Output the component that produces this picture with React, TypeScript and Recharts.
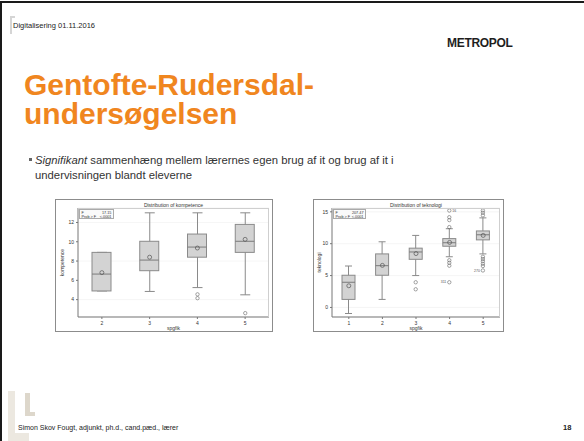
import React from "react";
import { ComposedChart, Bar, Scatter, XAxis, YAxis, CartesianGrid, Label } from "recharts";

// Distribution of kompetence
const kompGroups = ["2", "3", "4", "5"];
const kompMin = [4.9, 4.85, 5.25, 4.5];
const kompQ1 = [4.9, 7.0, 8.4, 8.9];
const kompMedian = [6.65, 8.1, 9.45, 10.05];
const kompQ3 = [8.9, 10.05, 10.8, 11.8];
const kompMax = [8.9, 13.0, 13.0, 13.0];
const kompMean = [6.8, 8.4, 9.35, 10.25];
const kompOutliers = [[], [], [4.55, 4.15], [2.6]];
const kompOutlierLabels = [[], [], ["", ""], [""]];
const kompTicks = [4, 6, 8, 10, 12];

// Distribution of teknologi
const tekGroups = ["1", "2", "3", "4", "5"];
const tekMin = [-0.95, 1.26, 5.0, 7.95, 8.4];
const tekQ1 = [1.26, 5.05, 7.55, 9.6, 10.6];
const tekMedian = [3.95, 6.55, 8.7, 10.15, 11.4];
const tekQ3 = [5.05, 8.4, 9.3, 10.8, 12.0];
const tekMax = [6.5, 10.3, 11.3, 12.35, 14.05];
const tekMean = [3.4, 6.6, 8.45, 10.2, 11.3];
const tekOutliers = [
  [],
  [],
  [3.95, 2.85],
  [15.2, 14.15, 13.7, 12.6, 7.4, 7.0, 6.55, 3.95],
  [15.2, 14.85, 14.45, 7.95, 7.6, 7.25, 6.85, 6.5, 5.8],
];
const tekOutlierLabels = [
  [],
  [],
  ["", ""],
  ["16", "", "", "", "", "", "", "311"],
  ["", "", "", "", "", "", "", "", "270"],
];
const tekTicks = [0, 5, 10, 15];

function buildRows(groups, min, q1, med, q3, max, mean, outliers, labels) {
  return groups.map((g, i) => ({
    g,
    whisker: [min[i], max[i]],
    box: [q1[i], q3[i]],
    median: med[i],
    mean: mean[i],
    outliers: outliers[i],
    labels: labels[i],
  }));
}

const kompRows = buildRows(kompGroups, kompMin, kompQ1, kompMedian, kompQ3, kompMax, kompMean, kompOutliers, kompOutlierLabels);
const tekRows = buildRows(tekGroups, tekMin, tekQ1, tekMedian, tekQ3, tekMax, tekMean, tekOutliers, tekOutlierLabels);

const AXIS = "#777";
const TXT = "#333";

function WhiskerShape(props: any) {
  const { x, y, width, height, payload } = props;
  const top = Math.min(y, y + height);
  const bottom = Math.max(y, y + height);
  const [lo, hi] = payload.whisker;
  const cx = x + width / 2;
  const toPx = (v: number) => top + ((bottom - top) * (hi - v)) / (hi - lo);
  return (
    <g>
      <line x1={cx} x2={cx} y1={top} y2={bottom} stroke="#8a8a8a" strokeWidth={1} />
      <line x1={x} x2={x + width} y1={top} y2={top} stroke="#8a8a8a" strokeWidth={1} />
      <line x1={x} x2={x + width} y1={bottom} y2={bottom} stroke="#8a8a8a" strokeWidth={1} />
      {payload.outliers.map((v: number, i: number) => {
        const py = toPx(v);
        const lab = payload.labels[i];
        const right = lab === "16";
        return (
          <g key={i}>
            <circle cx={cx} cy={py} r={1.7} fill="none" stroke="#666" strokeWidth={0.6} />
            {lab ? (
              <text x={right ? cx + 3 : cx - 3} y={py + 1.2} fontSize={3.5} fill="#555" textAnchor={right ? "start" : "end"}>
                {lab}
              </text>
            ) : null}
          </g>
        );
      })}
    </g>
  );
}

function BoxShape(props: any) {
  const { x, y, width, height, payload } = props;
  const top = Math.min(y, y + height);
  const bottom = Math.max(y, y + height);
  const [q1, q3] = payload.box;
  const my = top + ((bottom - top) * (q3 - payload.median)) / (q3 - q1);
  return (
    <g>
      <rect x={x} y={top} width={width} height={bottom - top} fill="#d3d3d3" stroke="#8a8a8a" strokeWidth={1} />
      <line x1={x} x2={x + width} y1={my} y2={my} stroke="#7a7a7a" strokeWidth={1} />
    </g>
  );
}

const MeanShape = (p: any) => <circle cx={p.cx} cy={p.cy} r={2} fill="none" stroke="#555" strokeWidth={0.7} />;

function BoxChart({ left, top, width, height, yAxisWidth, rows, domain, ticks, title, yLabel, xLabel, fValue, boxSize, capSize, yLabelOffset, statWidth }: any) {
  const m = { top: 8, right: 3, bottom: 0, left: 0 };
  const xh = 14;
  const iw = width - 2;
  const ih = height - 2;
  const px = left + 1 + yAxisWidth;
  const py = top + 1 + m.top;
  const pw = iw - yAxisWidth - m.right;
  const ph = ih - m.top - xh;
  const tick = { fontSize: 5, fill: TXT };
  return (
    <>
      <div style={{ position: "absolute", left, top, width, height, boxSizing: "border-box", border: "1px solid #8c8c8c", background: "#fff" }}>
        <ComposedChart width={iw} height={ih} data={rows} margin={m}>
          <CartesianGrid vertical={false} stroke="#efefef" strokeWidth={0.6} />
          <XAxis dataKey="g" height={xh} tick={tick} tickSize={2} tickMargin={2} stroke={AXIS} interval={0}>
            <Label value={xLabel} position="insideBottom" offset={1.5} style={{ fontSize: 5, fill: TXT }} />
          </XAxis>
          <XAxis xAxisId="w" dataKey="g" hide />
          <XAxis xAxisId="b" dataKey="g" hide />
          <YAxis type="number" domain={domain} ticks={ticks} allowDataOverflow width={yAxisWidth} tick={tick} tickSize={2} tickMargin={2} stroke={AXIS}>
            <Label value={yLabel} angle={-90} position="insideLeft" offset={yLabelOffset} style={{ fontSize: 5, fill: TXT, textAnchor: "middle" }} />
          </YAxis>
          <Bar xAxisId="w" dataKey="whisker" barSize={capSize} shape={WhiskerShape} isAnimationActive={false} />
          <Bar xAxisId="b" dataKey="box" barSize={boxSize} shape={BoxShape} isAnimationActive={false} />
          <Scatter dataKey="mean" shape={MeanShape} isAnimationActive={false} />
        </ComposedChart>
      </div>
      <div style={{ position: "absolute", left: px, top: py, width: pw, height: ph, boxSizing: "border-box", borderTop: "1px solid #cfcfcf", borderRight: "1px solid #cfcfcf", pointerEvents: "none" }} />
      <div style={{ position: "absolute", left: px, width: pw, top: top + 3, fontSize: 5, lineHeight: "6px", color: TXT, textAlign: "center" }}>{title}</div>
      <div style={{ position: "absolute", left: px + 1, top: py + 1, width: statWidth, height: 10, boxSizing: "border-box", border: "0.6px solid #aaa", background: "#fafafa", fontSize: 3.8, lineHeight: "4.3px", color: "#333", padding: "0.5px 1.5px" }}>
        <div style={{ display: "flex", justifyContent: "space-between" }}><span>F</span><span>{fValue}</span></div>
        <div style={{ display: "flex", justifyContent: "space-between" }}><span>Prob &gt; F</span><span>&lt;.0001</span></div>
      </div>
    </>
  );
}

const titleStyle: React.CSSProperties = { position: "absolute", left: 24, fontSize: 30, lineHeight: "28px", height: 28, fontWeight: 700, color: "#f0861f", whiteSpace: "nowrap" };

export default function App() {
  return (
    <div style={{ position: "fixed", left: 0, top: 0, width: 584, height: 441, background: "#fff", overflow: "hidden", fontFamily: "'Liberation Sans', Arial, sans-serif" }}>
      <div style={{ position: "absolute", left: 0, top: 1, width: 640, height: 500, borderLeft: "2px solid #1a1a1a", borderTop: "2px solid #1a1a1a" }} />
      {/* header */}
      <div style={{ position: "absolute", left: 10, top: 16, width: 2, height: 18, background: "#d5d5d5" }} />
      <div style={{ position: "absolute", left: 10, top: 16, width: 5, height: 2, background: "#d5d5d5" }} />
      <div style={{ position: "absolute", left: 13, top: 21, fontSize: 7.5, lineHeight: "9px", color: "#222" }}>Digitalisering 01.11.2016</div>
      <div style={{ position: "absolute", left: 447, top: 37, fontSize: 12, lineHeight: "13px", fontWeight: 700, color: "#1e1e1e", letterSpacing: -0.3 }}>METROPOL</div>
      {/* title */}
      <div style={{ ...titleStyle, top: 70.5 }}>Gentofte-Rudersdal-</div>
      <div style={{ ...titleStyle, top: 99.5 }}>undersøgelsen</div>
      {/* bullet */}
      <div style={{ position: "absolute", left: 29, top: 158, width: 3, height: 3, background: "#666" }} />
      <div style={{ position: "absolute", left: 35, top: 153, fontSize: 11.3, lineHeight: "15px", color: "#333", width: 440 }}>
        <i>Signifikant</i> sammenhæng mellem lærernes egen brug af it og brug af it i
        <br />
        undervisningen blandt eleverne
      </div>
      <BoxChart left={55} top={199} width={218} height={133} yAxisWidth={22} rows={kompRows} domain={[2.2, 13.5]} ticks={kompTicks}
        title="Distribution of kompetence" yLabel="kompetence" xLabel="spgfik" fValue="17.15" boxSize={19} capSize={10} yLabelOffset={6} statWidth={35} />
      <BoxChart left={313} top={199} width={191} height={133} yAxisWidth={18} rows={tekRows} domain={[-1.5, 15.6]} ticks={tekTicks}
        title="Distribution of teknologi" yLabel="teknologi" xLabel="spgfik" fValue="207.47" boxSize={13} capSize={7} yLabelOffset={5} statWidth={33} />
      {/* footer */}
      <div style={{ position: "absolute", left: 8, top: 391, width: 7, height: 50, background: "#ece8e0" }} />
      <div style={{ position: "absolute", left: 8, top: 433, width: 21, height: 8, background: "#ece8e0" }} />
      <div style={{ position: "absolute", left: 25, top: 393, width: 5, height: 23, background: "#ddd7cb" }} />
      <div style={{ position: "absolute", left: 25, top: 412, width: 10, height: 4, background: "#ddd7cb" }} />
      <div style={{ position: "absolute", left: 18, top: 424, fontSize: 7, lineHeight: "8px", color: "#222" }}>Simon Skov Fougt, adjunkt, ph.d., cand.pæd., lærer</div>
      <div style={{ position: "absolute", left: 563, top: 424, fontSize: 7.5, lineHeight: "8px", fontWeight: 700, color: "#222" }}>18</div>
    </div>
  );
}
